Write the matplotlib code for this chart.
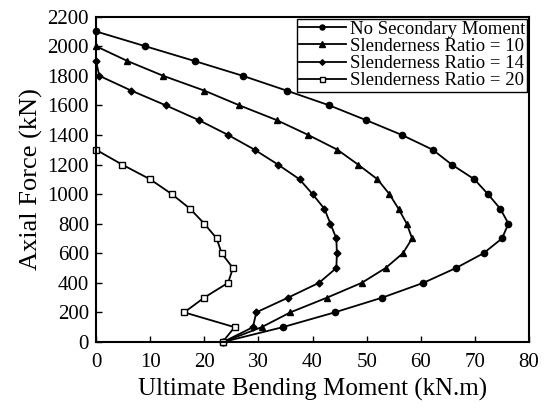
import matplotlib
matplotlib.use("Agg")
import matplotlib.pyplot as plt

plt.rcParams['font.family'] = ['Liberation Serif', 'DejaVu Serif']
plt.rcParams['mathtext.fontset'] = 'stix'

# axial force levels (kN)
force_full = [2100, 2000, 1900, 1800, 1700, 1600, 1500, 1400, 1300, 1200, 1100,
              1000, 900, 800, 700, 600, 500, 400, 300, 200, 100, 0]
force_sr10 = force_full[1:]
force_sr14 = force_full[2:]
force_sr20 = force_full[8:]

# ultimate bending moment (kN.m)
moment_none = [0, 9.1, 18.2, 27.1, 35.2, 43.1, 49.9, 56.5, 62.2, 65.7, 69.9,
               72.4, 74.7, 76.2, 75.0, 71.6, 66.5, 60.5, 52.9, 44.1, 34.5, 23.5]
moment_sr10 = [0, 5.8, 12.4, 20.0, 26.5, 33.4, 39.2, 44.6, 48.4, 52.0,
               54.2, 55.9, 57.4, 58.4, 56.7, 53.5, 49.1, 42.7, 35.9, 30.6, 23.5]
moment_sr14 = [0, 0.6, 6.5, 12.9, 19.0, 24.4, 29.3, 33.6, 37.6,
               40.0, 42.2, 43.3, 44.4, 44.5, 44.4, 41.2, 35.5, 29.6, 29.0, 23.5]
moment_sr20 = [0, 4.8, 10.0, 14.0, 17.4, 20.0, 22.3, 23.2, 25.3, 24.4,
               20.0, 16.3, 25.6, 23.4]

x_ticks = [0, 10, 20, 30, 40, 50, 60, 70, 80]
y_ticks = list(range(0, 2201, 200))

fig = plt.figure(figsize=(5.44, 4.16), dpi=100)
ax = fig.add_axes([0.1765, 0.178, 0.796, 0.782])

line_kw = dict(color='black', lw=1.3, clip_on=False)
ax.plot(moment_none, force_full, marker='o', ms=4.5, mfc='black', mec='black',
        label='No Secondary Moment', **line_kw)
ax.plot(moment_sr10, force_sr10, marker='^', ms=5, mfc='black', mec='black',
        label='Slenderness Ratio = 10', **line_kw)
ax.plot(moment_sr14, force_sr14, marker='D', ms=3.5, mfc='black', mec='black',
        label='Slenderness Ratio = 14', **line_kw)
ax.plot(moment_sr20, force_sr20, marker='s', ms=4.5, mfc='white', mec='black',
        mew=1.0, label='Slenderness Ratio = 20', **line_kw)

ax.set_xlim(0, 80)
ax.set_ylim(0, 2200)
ax.set_xticks(x_ticks)
ax.set_yticks(y_ticks)
ax.tick_params(direction='in', length=4, width=1, labelsize=15)
ax.tick_params(axis='x', pad=8)
ax.tick_params(axis='y', pad=5)
for sp in ax.spines.values():
    sp.set_linewidth(1.5)

ax.set_xlabel('Ultimate Bending Moment (kN.m)', fontsize=18, labelpad=4)
ax.set_ylabel('Axial Force (kN)', fontsize=19, labelpad=3)

leg = ax.legend(loc='upper right', fontsize=13.5, handlelength=2.5,
                handletextpad=0.2, borderpad=0.12, labelspacing=0.0,
                borderaxespad=0.1, fancybox=False, framealpha=1,
                markerscale=0.8)
leg.get_frame().set_edgecolor('black')
leg.get_frame().set_linewidth(1.0)

fig.savefig('out.png', dpi=100)
